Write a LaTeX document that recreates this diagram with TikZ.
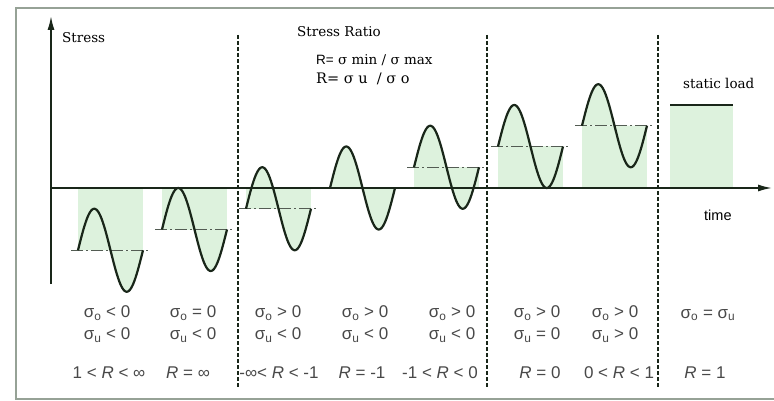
\documentclass[tikz,border=0pt]{standalone}
\usepackage{fontspec}
\setmainfont{DejaVu Serif}
\setsansfont{Liberation Sans}
\usetikzlibrary{arrows.meta}
\definecolor{loadgreen}{RGB}{221,242,221}
\definecolor{curvecol}{RGB}{25,38,25}
\definecolor{labelgray}{RGB}{72,72,72}
\definecolor{framegray}{RGB}{150,162,150}
\tikzset{
  curve/.style={curvecol, line width=2.2pt},
  axis/.style={curvecol, line width=1.6pt, -{Latex[length=14pt,width=7pt]}},
  divider/.style={curvecol, line width=1.2pt, dash pattern=on 4pt off 2pt},
  meanline/.style={curvecol!75, line width=1.3pt, dash pattern=on 12pt off 3pt on 2pt off 3pt},
  serif label/.style={font=\fontsize{13.5}{16}\selectfont, inner sep=0pt, anchor=west},
  case label/.style={font=\sffamily\fontsize{17}{20}\selectfont, text=labelgray, inner sep=0pt},
}
\begin{document}
\begin{tikzpicture}[x=1pt,y=-1pt]
    \useasboundingbox (0,0) rectangle (774,401);
    % Cadre
    \draw[framegray, line width=1.2pt] (780,8) -- (16,8) -- (16,399) -- (780,399);

    % Surfaces vertes
    \foreach \i in {1,...,7} {
        \pgfmathsetmacro\wx{78+84*(\i-1)}
        \pgfmathsetmacro\wm{188+20.75*(4-\i)}
        \fill[loadgreen] (\wx,188) rectangle (\wx+65,\wm);
        \fill[loadgreen] plot[domain=0:360, samples=61] ({\wx+\x/360*65},{\wm-41.5*sin(\x)}) -- cycle;
    }
    \fill[loadgreen] (670,105) rectangle (733,188);

    % Lignes moyennes
    \foreach \i in {1,2,3,5,6,7} {
        \pgfmathsetmacro\wx{78+84*(\i-1)}
        \pgfmathsetmacro\wm{188+20.75*(4-\i)}
        \draw[meanline] (\wx-7,\wm) -- (\wx+72,\wm);
    }

    % Courbes
    \foreach \i in {1,...,7} {
        \pgfmathsetmacro\wx{78+84*(\i-1)}
        \pgfmathsetmacro\wm{188+20.75*(4-\i)}
        \draw[curve] plot[domain=0:360, samples=61] ({\wx+\x/360*65},{\wm-41.5*sin(\x)});
    }
    \coordinate (loadleft) at (670,105);
    \coordinate (loadright) at (733,105);
    \draw[curvecol, line width=2.5pt] (loadleft) -- (loadright);

    % Axes
    \coordinate (origin) at (51,188);
    \coordinate (ybottom) at (51,284);
    \coordinate (ytip) at (51,16);
    \coordinate (xtip) at (772,188);
    \draw[axis] (ybottom) -- (ytip);
    \draw[axis] (origin) -- (xtip);

    % Séparations
    \foreach \xd in {238,487,658}
        \draw[divider] (\xd,35) -- (\xd,387);

    % Textes
    \node[serif label] (stress) at (62,38) {Stress};
    \node[serif label] (ratio) at (297,32) {Stress Ratio};
    \node[serif label] (defone) at (316,60) {{\sffamily R=} σ min / σ max};
    \node[serif label, font=\fontsize{14.5}{17}\selectfont] (deftwo) at (316,79) {R= σ u \ / σ o};
    \node[serif label] (static) at (683,83) {static load};
    \node[serif label, font=\sffamily\fontsize{14.5}{17}\selectfont] (time) at (704,215) {time};

    % Cas
    \node[case label] (o1) at (107,313) {σ\textsubscript{o} < 0};
    \node[case label] (u1) at (107,335) {σ\textsubscript{u} < 0};
    \node[case label] (r1) at (109,373) {1 < \textit{R} < ∞};
    \node[case label] (o2) at (193,313) {σ\textsubscript{o} = 0};
    \node[case label] (u2) at (193,335) {σ\textsubscript{u} < 0};
    \node[case label] (r2) at (188,373) {\textit{R} = ∞};
    \node[case label] (o3) at (278,313) {σ\textsubscript{o} > 0};
    \node[case label] (u3) at (278,335) {σ\textsubscript{u} < 0};
    \node[case label] (r3) at (279,373) {-∞< \textit{R} < -1};
    \node[case label] (o4) at (365,313) {σ\textsubscript{o} > 0};
    \node[case label] (u4) at (365,335) {σ\textsubscript{u} < 0};
    \node[case label] (r4) at (362,373) {\textit{R} = -1};
    \node[case label] (o5) at (452,313) {σ\textsubscript{o} > 0};
    \node[case label] (u5) at (452,335) {σ\textsubscript{u} < 0};
    \node[case label] (r5) at (440,373) {-1 < \textit{R} < 0};
    \node[case label] (o6) at (537,313) {σ\textsubscript{o} > 0};
    \node[case label] (u6) at (537,335) {σ\textsubscript{u} = 0};
    \node[case label] (r6) at (540,373) {\textit{R} = 0};
    \node[case label] (o7) at (615,313) {σ\textsubscript{o} > 0};
    \node[case label] (u7) at (615,335) {σ\textsubscript{u} > 0};
    \node[case label] (r7) at (619,373) {0 < \textit{R} < 1};
    \node[case label] (o8) at (708,315) {σ\textsubscript{o} = σ\textsubscript{u}};
    \node[case label] (r8) at (705,373) {\textit{R} = 1};
\end{tikzpicture}
\end{document}
